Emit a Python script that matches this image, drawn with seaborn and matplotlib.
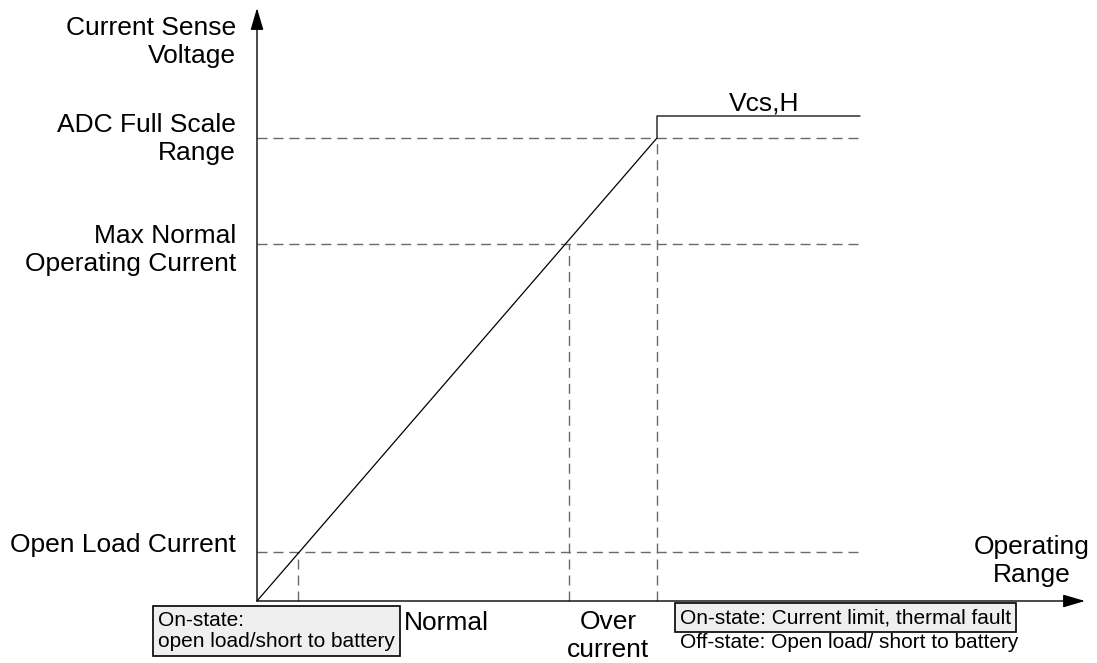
import matplotlib
matplotlib.use("Agg")
import matplotlib.pyplot as plt
import seaborn as sns
import pandas as pd

# Threshold levels on the current-sense characteristic (arbitrary units)
level_names = ["Open Load Current", "Max Normal\nOperating Current", "ADC Full Scale\nRange"]
level_currents = [0.41, 3.12, 4.00]      # load current at each threshold
level_voltages = [0.49, 3.57, 4.63]      # sense voltage at each threshold
vcs_high = 4.85                          # saturated sense voltage Vcs,H
current_end = 6.03                       # right end of the drawn range

# Sense voltage versus load current: linear up to full scale, then jumps to Vcs,H
curve = pd.DataFrame({
    "current": [0.0, level_currents[2], level_currents[2], current_end],
    "voltage": [0.0, level_voltages[2], vcs_high, vcs_high],
})

sns.set_theme(style="white")
plt.rcParams["font.family"] = ["Liberation Sans", "DejaVu Sans"]
plt.rcParams["text.color"] = "black"

fig = plt.figure(figsize=(10.97, 6.63), dpi=100)
ax = fig.add_axes([0, 0, 1, 1])
ax.set_xlim(-2.57, 8.40)
ax.set_ylim(-0.62, 6.01)
ax.axis("off")

dash = (0, (7.2, 4.3))
grey = "#6a6a6a"

# Dashed threshold guides
for v in level_voltages:
    sns.lineplot(x=[0, current_end], y=[v, v], ax=ax, color=grey, lw=1.0,
                 linestyle=dash, sort=False, estimator=None)
for i, v in zip(level_currents, level_voltages):
    sns.lineplot(x=[i, i], y=[0, v], ax=ax, color=grey, lw=1.0,
                 linestyle=dash, sort=False, estimator=None)

# Characteristic curve
sns.lineplot(data=curve, x="current", y="voltage", ax=ax, color="black",
             lw=0.9, sort=False, estimator=None)

# Axes with arrow heads
arrow = dict(arrowstyle="-|>,head_length=0.75,head_width=0.22", color="black",
             lw=1.0, shrinkA=0, shrinkB=0, mutation_scale=18)
ax.annotate("", xy=(0, 5.93), xytext=(0, 0), arrowprops=arrow)
ax.annotate("", xy=(8.28, 0), xytext=(0, 0), arrowprops=arrow)

big = 19
small = 15

# Vertical-axis labels
ax.text(-0.21, 5.59, "Current Sense\nVoltage", ha="right", va="center",
        fontsize=big, linespacing=1.2)
label_y = [0.56, 3.51, 4.62]
for name, y in zip(level_names, label_y):
    ax.text(-0.21, y, name, ha="right", va="center", fontsize=big,
            linespacing=1.2)

ax.text(7.75, 0.40, "Operating\nRange", ha="center", va="center",
        fontsize=big, linespacing=1.2)
ax.text(5.07, 4.98, "Vcs,H", ha="center", va="center", fontsize=big)

# Region labels below the current axis
ax.text(1.89, -0.22, "Normal", ha="center", va="center", fontsize=big)
ax.text(3.51, -0.35, "Over\ncurrent", ha="center", va="center",
        fontsize=big, linespacing=1.2)

box = dict(boxstyle="square,pad=0.25", fc="#efefef", ec="black", lw=1.2)
ax.text(-0.99, -0.30, "On-state:\nopen load/short to battery", ha="left",
        va="center", fontsize=small, linespacing=1.15, bbox=box)
ax.text(4.23, -0.165, "On-state: Current limit, thermal fault", ha="left",
        va="center", fontsize=small, bbox=box)
ax.text(4.23, -0.415, "Off-state: Open load/ short to battery", ha="left",
        va="center", fontsize=small)

fig.savefig("out.png", dpi=100)
